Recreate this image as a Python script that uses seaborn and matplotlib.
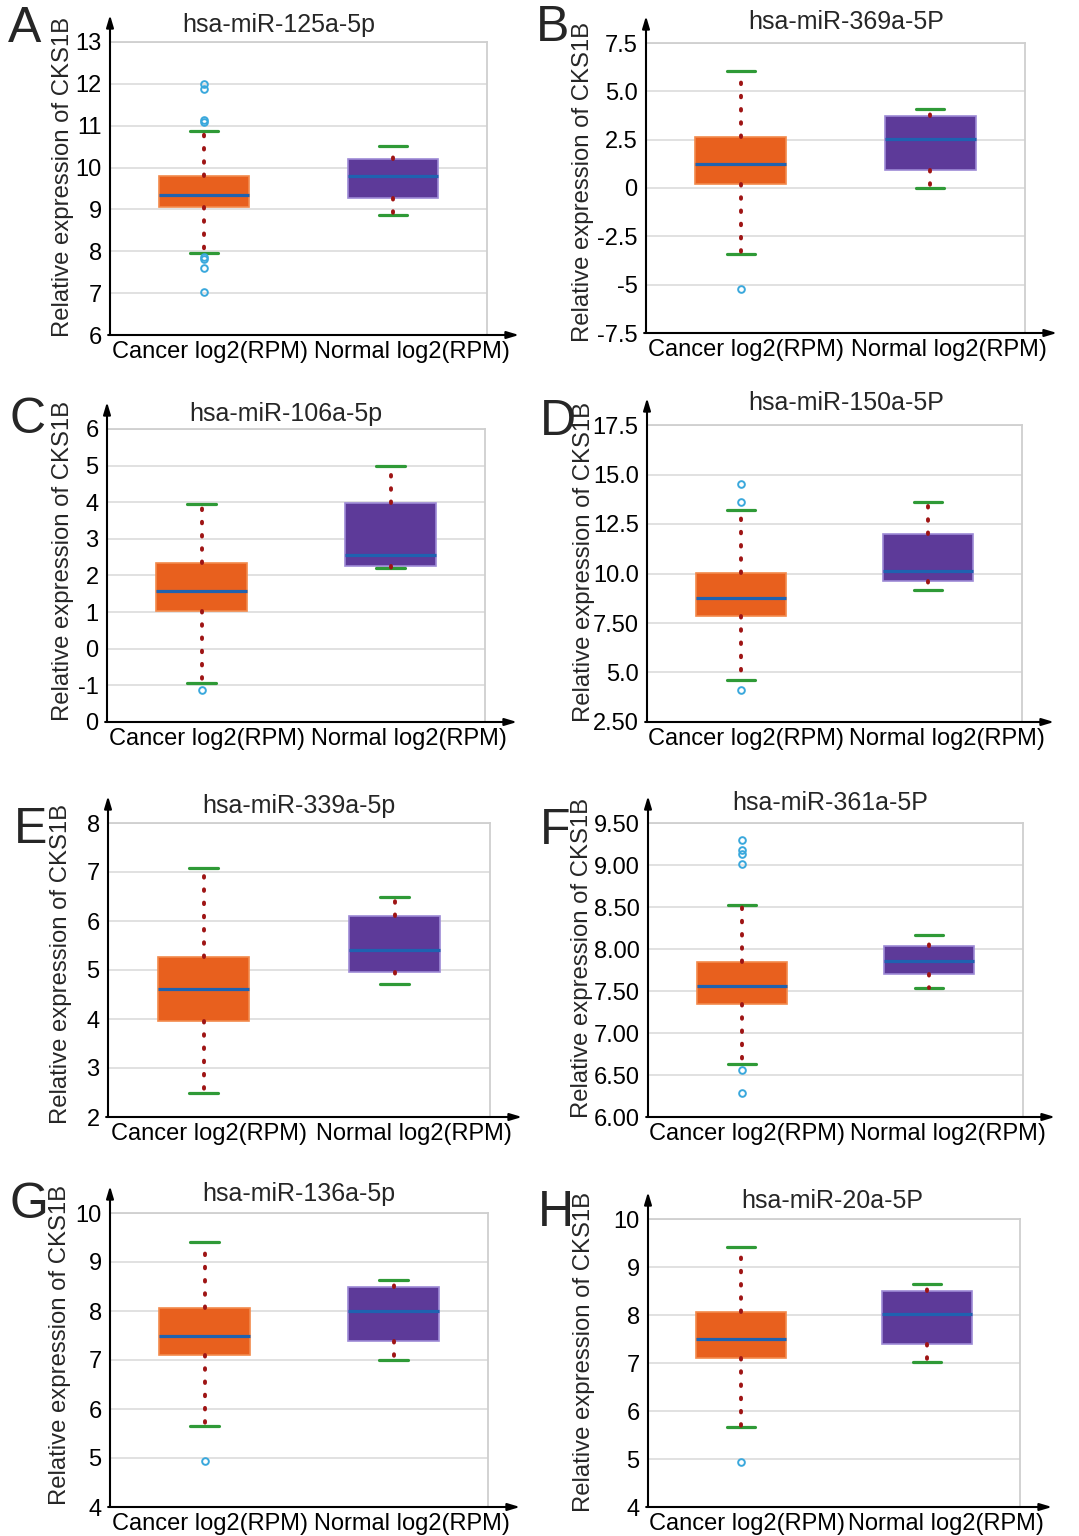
import matplotlib
matplotlib.use("Agg")
import matplotlib.pyplot as plt
import seaborn as sns

# figure size in pixels (dpi 100)
W, H = 1079, 1536

PANEL_LETTERS = ["A", "B", "C", "D", "E", "F", "G", "H"]
TITLES = [
    "hsa-miR-125a-5p", "hsa-miR-369a-5P",
    "hsa-miR-106a-5p", "hsa-miR-150a-5P",
    "hsa-miR-339a-5p", "hsa-miR-361a-5P",
    "hsa-miR-136a-5p", "hsa-miR-20a-5P",
]
GROUPS = ["Cancer log2(RPM)", "Normal log2(RPM)"]
Y_LABEL = "Relative expression of CKS1B"

# box statistics: cancer group
CANCER_WHISLO = [7.97, -3.40, -0.93, 4.60, 2.50, 6.63, 5.66, 5.67]
CANCER_Q1 = [9.06, 0.22, 1.02, 7.84, 3.95, 7.35, 7.10, 7.10]
CANCER_MED = [9.34, 1.22, 1.58, 8.77, 4.61, 7.56, 7.49, 7.50]
CANCER_Q3 = [9.80, 2.65, 2.35, 10.03, 5.27, 7.84, 8.06, 8.07]
CANCER_WHISHI = [10.88, 6.06, 3.95, 13.22, 7.08, 8.52, 9.41, 9.41]
CANCER_FLIERS = [
    [12.0, 11.88, 11.13, 11.08, 7.87, 7.82, 7.60, 7.03],
    [-5.2],
    [-1.13],
    [14.5, 13.6, 4.13],
    [],
    [9.30, 9.18, 9.13, 9.01, 6.56, 6.29],
    [4.93],
    [4.94],
]

# normal group
NORMAL_WHISLO = [8.86, 0.02, 2.21, 9.19, 4.72, 7.54, 7.01, 7.03]
NORMAL_Q1 = [9.27, 0.93, 2.26, 9.63, 4.95, 7.70, 7.38, 7.40]
NORMAL_MED = [9.79, 2.56, 2.57, 10.11, 5.40, 7.86, 8.01, 8.03]
NORMAL_Q3 = [10.20, 3.72, 3.97, 11.97, 6.10, 8.04, 8.49, 8.50]
NORMAL_WHISHI = [10.52, 4.10, 5.00, 13.62, 6.50, 8.17, 8.63, 8.64]

Y_LIMITS = [(6, 13), (-7.5, 7.5), (-2, 6), (2.5, 17.5), (2, 8), (6, 9.5), (4, 10), (4, 10)]
Y_TICKS = [
    [6, 7, 8, 9, 10, 11, 12, 13],
    [-7.5, -5, -2.5, 0, 2.5, 5, 7.5],
    [-2, -1, 0, 1, 2, 3, 4, 5, 6],
    [2.5, 5, 7.5, 10, 12.5, 15, 17.5],
    [2, 3, 4, 5, 6, 7, 8],
    [6.0, 6.5, 7.0, 7.5, 8.0, 8.5, 9.0, 9.5],
    [4, 5, 6, 7, 8, 9, 10],
    [4, 5, 6, 7, 8, 9, 10],
]
Y_TICKLABELS = [
    ["6", "7", "8", "9", "10", "11", "12", "13"],
    ["-7.5", "-5", "-2.5", "0", "2.5", "5.0", "7.5"],
    ["0", "-1", "0", "1", "2", "3", "4", "5", "6"],
    ["2.50", "5.0", "7.50", "10.0", "12.5", "15.0", "17.5"],
    ["2", "3", "4", "5", "6", "7", "8"],
    ["6.00", "6.50", "7.00", "7.50", "8.00", "8.50", "9.00", "9.50"],
    ["4", "5", "6", "7", "8", "9", "10"],
    ["4", "5", "6", "7", "8", "9", "10"],
]

# layout, in pixels: axes box (left, top, right, bottom)
AX_BOX = [
    (110, 42, 487, 335), (646, 43, 1025, 333),
    (107, 429, 485, 722), (647, 425, 1022, 722),
    (108, 823, 490, 1117), (648, 823, 1023, 1117),
    (110, 1213, 488, 1507), (648, 1219, 1020, 1507),
]
TITLE_XY = [(279, 25), (846, 22), (286, 414), (846, 403),
            (299, 806), (830, 803), (299, 1194), (832, 1201)]
YLABEL_XY = [(63, 177), (583, 182), (63, 561), (584, 562),
             (61, 964), (582, 958), (60, 1345), (584, 1352)]
LETTER_XY = [(8, 29), (536, 28), (10, 420), (540, 422),
             (14, 830), (540, 831), (10, 1205), (538, 1213)]
XTICK_POS = [0.03, 1.1]

ORANGE = "#e8601e"
PURPLE = "#5d3a99"
MEDIAN_BLUE = "#1f62b0"
CAP_GREEN = "#2f9a37"
WHISKER_RED = "#9e1414"
FLIER_BLUE = "#3aa8dc"
GRID = "#dedede"

sns.set_theme(style="white")
plt.rcParams["font.family"] = ["Liberation Sans", "DejaVu Sans"]


def fx(x):
    return x / W


def fy(y):
    return 1 - y / H


fig = plt.figure(figsize=(W / 100, H / 100), dpi=100)

for i, letter in enumerate(PANEL_LETTERS):
    left, top, right, bottom = AX_BOX[i]
    ax = fig.add_axes([fx(left), fy(bottom), (right - left) / W, (bottom - top) / H])

    stats = [
        {"label": GROUPS[0], "whislo": CANCER_WHISLO[i], "q1": CANCER_Q1[i],
         "med": CANCER_MED[i], "q3": CANCER_Q3[i], "whishi": CANCER_WHISHI[i],
         "fliers": CANCER_FLIERS[i]},
        {"label": GROUPS[1], "whislo": NORMAL_WHISLO[i], "q1": NORMAL_Q1[i],
         "med": NORMAL_MED[i], "q3": NORMAL_Q3[i], "whishi": NORMAL_WHISHI[i],
         "fliers": []},
    ]
    bp = ax.bxp(
        stats,
        positions=[0, 1],
        widths=0.48,
        capwidths=0.15,
        patch_artist=True,
        showfliers=True,
        manage_ticks=False,
        medianprops=dict(color=MEDIAN_BLUE, linewidth=2.3),
        capprops=dict(color=CAP_GREEN, linewidth=2.3),
        whiskerprops=dict(color=WHISKER_RED, linewidth=2.8,
                          linestyle=(0, (0.4, 3.0)), dash_capstyle="round"),
        flierprops=dict(marker="o", markerfacecolor="none",
                        markeredgecolor=FLIER_BLUE, markersize=4.8,
                        markeredgewidth=1.4),
    )
    bp["boxes"][0].set(facecolor=ORANGE, edgecolor="#f28a4c", linewidth=1.2)
    bp["boxes"][1].set(facecolor=PURPLE, edgecolor="#9d8ad6", linewidth=1.2)
    for w in bp["whiskers"]:
        w.set_zorder(3)
    for m in bp["medians"]:
        m.set_zorder(4)

    ax.set_xlim(-0.5, 1.5)
    ax.set_ylim(*Y_LIMITS[i])
    ax.set_yticks(Y_TICKS[i])
    ax.set_yticklabels(Y_TICKLABELS[i])
    ax.set_xticks(XTICK_POS)
    ax.set_xticklabels(GROUPS)
    ax.tick_params(axis="both", length=0, labelsize=17, colors="black")
    ax.tick_params(axis="y", pad=6)
    ax.tick_params(axis="x", pad=4)
    ax.yaxis.grid(True, color=GRID, linewidth=1.3)
    ax.xaxis.grid(False)
    ax.set_axisbelow(True)

    ax.spines["left"].set_visible(False)
    ax.spines["bottom"].set_visible(False)
    for side in ["top", "right"]:
        ax.spines[side].set_color("#cfcfcf")
        ax.spines[side].set_linewidth(1.3)

    # black axes with arrow heads
    up = 27 / (bottom - top)
    out = 32 / (right - left)
    arrow = dict(arrowstyle="-|>,head_length=0.6,head_width=0.18",
                 color="black", lw=1.5, shrinkA=0, shrinkB=0)
    ax.annotate("", xy=(0, 1 + up), xytext=(0, 0), xycoords="axes fraction",
                arrowprops=arrow, annotation_clip=False)
    ax.annotate("", xy=(1 + out, 0), xytext=(-0.005, 0), xycoords="axes fraction",
                arrowprops=arrow, annotation_clip=False)

    tx, ty = TITLE_XY[i]
    fig.text(fx(tx), fy(ty), TITLES[i], fontsize=18, ha="center", va="center")
    lx, ly = YLABEL_XY[i]
    fig.text(fx(lx), fy(ly), Y_LABEL, fontsize=17.2, rotation=90,
             ha="center", va="center")
    px, py = LETTER_XY[i]
    fig.text(fx(px), fy(py), letter, fontsize=36, ha="left", va="center")

fig.savefig("out.png", dpi=100)
